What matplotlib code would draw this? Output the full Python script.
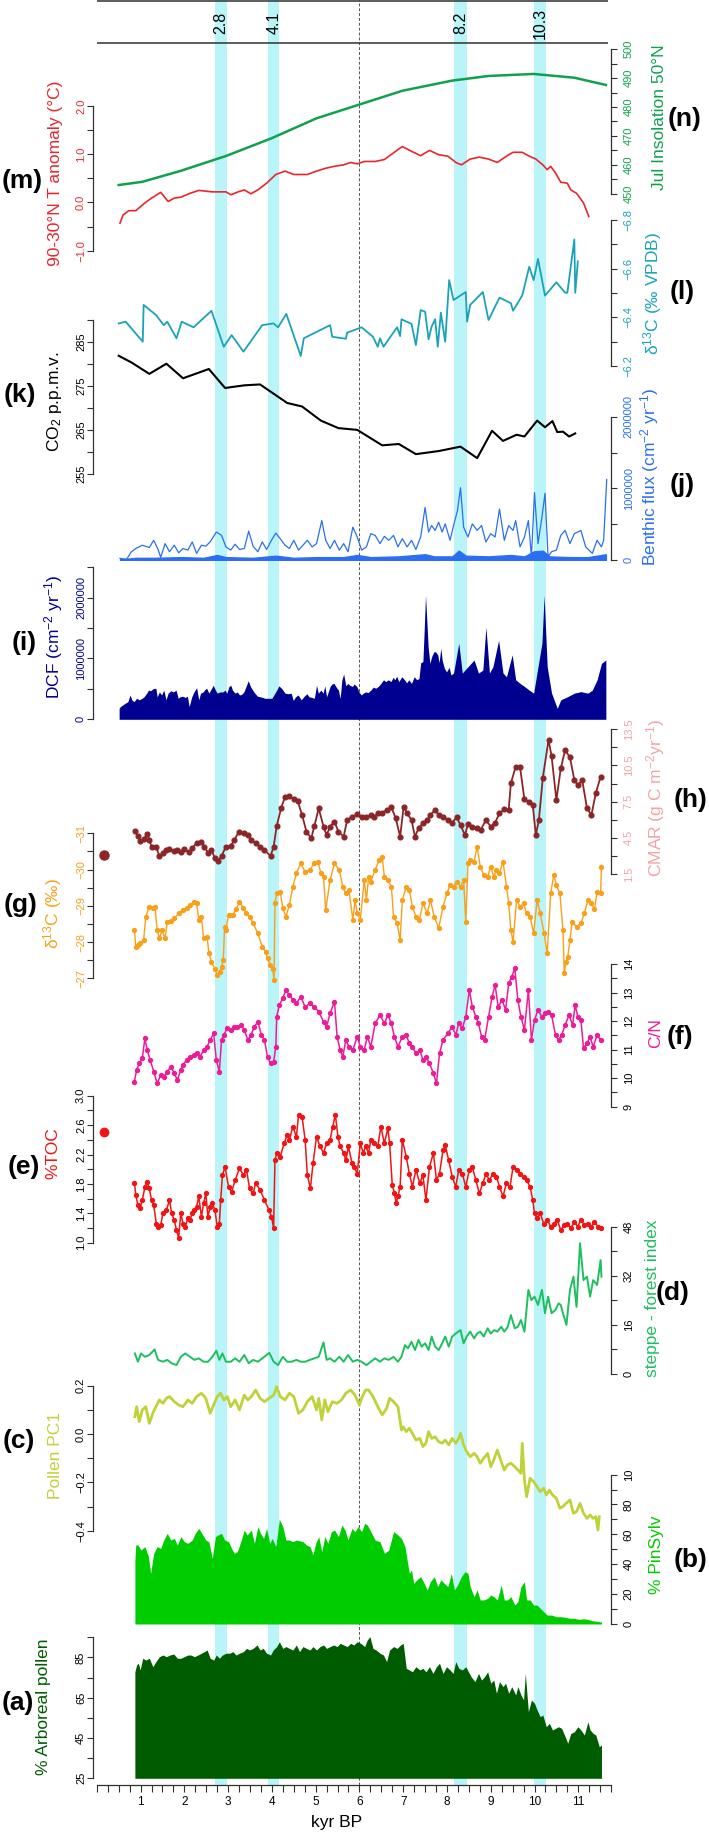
import numpy as np
import matplotlib
matplotlib.use("Agg")
import matplotlib.pyplot as plt

plt.rcParams["font.family"] = ["Liberation Sans", "DejaVu Sans"]
plt.rcParams["mathtext.default"] = "regular"

# ---------------- data (kyr BP) ----------------
event_names = ["2.8", "4.1", "8.2", "10.3"]
event_start = [2.70, 3.92, 8.17, 9.98]
event_end = [2.98, 4.17, 8.45, 10.26]

# (n) July insolation 50N
ins_kyr = [0.50, 1.04, 1.92, 2.95, 3.99, 5.02, 6.01, 6.98, 8.12, 8.95, 9.98, 10.91, 11.63]
ins_val = [453.1, 454.2, 458.0, 463.1, 469.2, 476.1, 480.9, 485.6, 489.1, 490.7, 491.4, 490.1, 487.6]

# (m) 90-30N temperature anomaly
tan_kyr = [0.53, 0.60, 0.73, 0.89, 1.10, 1.25, 1.46, 1.63, 1.77, 1.92, 2.13, 2.33, 2.64, 2.95, 3.06,
           3.26, 3.37, 3.52, 3.68, 3.88, 4.09, 4.30, 4.50, 4.81, 5.02, 5.23, 5.43, 5.64, 5.80, 5.95,
           6.11, 6.36, 6.57, 6.78, 6.98, 7.19, 7.40, 7.60, 7.81, 8.02, 8.22, 8.33, 8.53, 8.74, 8.95,
           9.15, 9.36, 9.51, 9.72, 9.88, 10.03, 10.19, 10.29, 10.37, 10.48, 10.60, 10.75, 10.83,
           10.96, 11.12, 11.24]
tan_val = [-0.43, -0.26, -0.17, -0.17, -0.01, 0.09, 0.21, 0.02, 0.09, 0.11, 0.19, 0.25, 0.22, 0.22,
           0.16, 0.23, 0.26, 0.18, 0.26, 0.40, 0.58, 0.65, 0.58, 0.58, 0.65, 0.71, 0.75, 0.78, 0.83,
           0.80, 0.85, 0.85, 0.89, 1.03, 1.16, 1.06, 0.97, 1.08, 0.99, 0.96, 0.82, 0.78, 0.90, 0.94,
           0.90, 0.83, 0.96, 1.04, 1.04, 0.96, 0.90, 0.78, 0.68, 0.75, 0.61, 0.42, 0.40, 0.26, 0.19,
           -0.01, -0.29]

# (l) speleothem d13C
spel_kyr = [0.50, 0.66, 1.05, 1.07, 1.35, 1.53, 1.61, 1.82, 1.94, 2.21,
            2.62, 2.90, 3.08, 3.35, 3.78, 4.04, 4.14, 4.33, 4.66, 4.73,
            5.33, 5.38, 5.69, 5.72, 6.05, 6.31, 6.42, 6.47, 6.55, 6.86,
            6.93, 6.96, 7.19, 7.29, 7.40, 7.50, 7.58, 7.65, 7.73, 7.79,
            7.86, 7.96, 8.05, 8.15, 8.43, 8.46, 8.53, 8.82, 8.95, 9.20,
            9.46, 9.51, 9.72, 9.88, 9.98, 10.08, 10.24, 10.50, 10.70, 10.75,
            10.91, 10.93, 10.99]
spel_d13c = [-6.375, -6.382, -6.30, -6.451, -6.41, -6.368, -6.382, -6.314, -6.382, -6.359,
             -6.427, -6.279, -6.327, -6.259, -6.368, -6.375, -6.359, -6.414, -6.241, -6.314,
             -6.368, -6.32, -6.312, -6.337, -6.359, -6.32, -6.279, -6.314, -6.279, -6.359,
             -6.323, -6.392, -6.373, -6.286, -6.43, -6.423, -6.31, -6.362, -6.392, -6.279,
             -6.419, -6.30, -6.553, -6.471, -6.504, -6.382, -6.451, -6.504, -6.389, -6.481,
             -6.458, -6.427, -6.49, -6.608, -6.553, -6.64, -6.489, -6.544, -6.501, -6.501,
             -6.72, -6.501, -6.63]

# (k) CO2
co2_kyr = [0.50, 0.79, 1.20, 1.59, 1.97, 2.56, 2.93, 3.37, 3.73, 4.04, 4.35, 4.69, 5.12, 5.52, 5.95,
           6.52, 6.90, 7.29, 7.81, 8.31, 8.69, 9.03, 9.28, 9.59, 9.77, 10.06, 10.24, 10.41, 10.52,
           10.65, 10.79, 10.93]
co2_ppm = [281.8, 280.3, 277.7, 280.0, 276.7, 278.8, 274.5, 275.1, 275.3, 273.2, 271.1, 270.3, 267.1,
           265.4, 265.0, 261.5, 261.8, 259.5, 260.2, 261.2, 258.6, 264.8, 262.5, 263.9, 263.5, 267.1,
           265.6, 267.0, 264.5, 264.6, 263.5, 264.2]

# (j) benthic flux, millions cm-2 yr-1
benth_kyr = [0.53, 0.68, 0.79, 0.89, 1.04, 1.20, 1.30, 1.40, 1.46, 1.56,
             1.66, 1.77, 1.87, 1.97, 2.08, 2.18, 2.28, 2.39, 2.49, 2.59,
             2.73, 2.85, 2.95, 3.06, 3.16, 3.26, 3.37, 3.47, 3.57, 3.68,
             3.78, 3.88, 3.99, 4.09, 4.19, 4.30, 4.40, 4.50, 4.61, 4.71,
             4.81, 4.92, 5.02, 5.14, 5.23, 5.33, 5.43, 5.54, 5.64, 5.74,
             5.85, 5.95, 6.05, 6.16, 6.26, 6.36, 6.47, 6.57, 6.67, 6.78,
             6.88, 6.98, 7.09, 7.19, 7.29, 7.40, 7.50, 7.58, 7.65, 7.73,
             7.81, 7.89, 7.96, 8.07, 8.17, 8.24, 8.31, 8.38, 8.48, 8.58,
             8.69, 8.79, 8.89, 9.00, 9.10, 9.20, 9.31, 9.41, 9.51, 9.57,
             9.67, 9.77, 9.86, 9.93, 10.00, 10.08, 10.17, 10.24, 10.31, 10.39,
             10.50, 10.60, 10.70, 10.81, 10.91, 11.06, 11.17, 11.32, 11.43, 11.53,
             11.58, 11.65]
benth_mil = [0.023, 0.009, 0.115, 0.16, 0.206, 0.174, 0.275, 0.147, 0.037, 0.229,
             0.115, 0.206, 0.101, 0.16, 0.138, 0.252, 0.092, 0.206, 0.193, 0.252,
             0.39, 0.344, 0.183, 0.138, 0.22, 0.147, 0.16, 0.403, 0.193, 0.115,
             0.252, 0.147, 0.275, 0.376, 0.298, 0.206, 0.16, 0.275, 0.138, 0.206,
             0.275, 0.183, 0.229, 0.55, 0.275, 0.16, 0.275, 0.138, 0.229, 0.115,
             0.459, 0.321, 0.138, 0.183, 0.367, 0.344, 0.229, 0.33, 0.275, 0.344,
             0.183, 0.298, 0.183, 0.275, 0.147, 0.321, 0.734, 0.39, 0.481, 0.413,
             0.527, 0.39, 0.504, 0.275, 0.527, 0.688, 1.009, 0.459, 0.321, 0.504,
             0.413, 0.481, 0.252, 0.367, 0.321, 0.711, 0.275, 0.481, 0.413, 0.55,
             0.183, 0.321, 0.55, 0.046, 0.94, 0.229, 0.596, 0.931, 0.046, 0.115,
             0.138, 0.344, 0.413, 0.229, 0.367, 0.413, 0.183, 0.092, 0.275, 0.183,
             0.275, 1.123]
benth_low_kyr = [0.53, 0.89, 1.30, 1.92, 2.44, 2.75, 2.95, 3.57, 4.09, 4.50, 5.02, 5.64, 5.95, 6.26,
                 6.88, 7.50, 7.71, 8.12, 8.27, 8.43, 8.95, 9.46, 9.77, 9.98, 10.19, 10.34, 10.81,
                 11.22, 11.63]
benth_low_mil = [0.01, 0.03, 0.03, 0.04, 0.03, 0.07, 0.04, 0.03, 0.06, 0.03, 0.04, 0.04, 0.07, 0.04,
                 0.05, 0.08, 0.05, 0.05, 0.13, 0.06, 0.05, 0.07, 0.05, 0.12, 0.13, 0.05, 0.04, 0.04,
                 0.08]

# (i) DCF, millions cm-2 yr-1
dcf_kyr = [0.51, 0.54, 0.59, 0.64, 0.71, 0.76, 0.80, 0.85, 0.91, 0.97,
           1.03, 1.08, 1.14, 1.18, 1.23, 1.29, 1.35, 1.38, 1.43, 1.48,
           1.53, 1.58, 1.63, 1.69, 1.75, 1.81, 1.86, 1.90, 1.96, 2.02,
           2.07, 2.11, 2.17, 2.22, 2.28, 2.33, 2.37, 2.43, 2.47, 2.51,
           2.56, 2.60, 2.66, 2.71, 2.75, 2.81, 2.88, 2.93, 2.97, 3.02,
           3.06, 3.10, 3.16, 3.21, 3.26, 3.31, 3.36, 3.41, 3.46, 3.51,
           3.56, 3.61, 3.67, 3.73, 3.79, 3.84, 4.00, 4.11, 4.16, 4.22,
           4.30, 4.38, 4.44, 4.49, 4.54, 4.60, 4.67, 4.74, 4.80, 4.85,
           4.91, 4.97, 5.02, 5.06, 5.12, 5.17, 5.21, 5.25, 5.33, 5.37,
           5.42, 5.46, 5.52, 5.56, 5.60, 5.64, 5.69, 5.73, 5.78, 5.84,
           5.88, 5.94, 5.99, 6.04, 6.09, 6.14, 6.20, 6.26, 6.32, 6.37,
           6.43, 6.49, 6.55, 6.60, 6.66, 6.72, 6.77, 6.81, 6.85, 6.90,
           6.97, 7.03, 7.08, 7.13, 7.19, 7.25, 7.31, 7.36, 7.40, 7.45,
           7.48, 7.51, 7.54, 7.57, 7.61, 7.65, 7.70, 7.74, 7.79, 7.82,
           7.86, 7.89, 7.94, 7.99, 8.05, 8.09, 8.15, 8.27, 8.35, 8.48,
           8.62, 8.72, 8.82, 8.89, 8.97, 9.05, 9.18, 9.28, 9.36, 9.49,
           9.57, 9.67, 9.77, 9.88, 9.98, 10.08, 10.17, 10.22, 10.29, 10.39,
           10.52, 10.60, 10.75, 10.91, 11.06, 11.22, 11.32, 11.43, 11.53, 11.63]
dcf_mil = [0.18, 0.21, 0.235, 0.26, 0.29, 0.40, 0.32, 0.29, 0.345, 0.32,
           0.345, 0.37, 0.43, 0.48, 0.47, 0.505, 0.51, 0.37, 0.45, 0.40,
           0.48, 0.32, 0.43, 0.47, 0.45, 0.48, 0.345, 0.37, 0.38, 0.36,
           0.38, 0.21, 0.37, 0.45, 0.52, 0.32, 0.43, 0.45, 0.49, 0.51,
           0.43, 0.48, 0.56, 0.48, 0.43, 0.45, 0.45, 0.48, 0.43, 0.54,
           0.56, 0.48, 0.43, 0.45, 0.40, 0.41, 0.45, 0.54, 0.635, 0.54,
           0.48, 0.43, 0.38, 0.37, 0.36, 0.345, 0.345, 0.48, 0.55, 0.51,
           0.43, 0.42, 0.43, 0.31, 0.37, 0.40, 0.32, 0.38, 0.42, 0.37,
           0.36, 0.345, 0.56, 0.43, 0.48, 0.43, 0.55, 0.37, 0.54, 0.58,
           0.59, 0.54, 0.48, 0.345, 0.65, 0.745, 0.55, 0.59, 0.56, 0.54,
           0.58, 0.54, 0.45, 0.40, 0.43, 0.45, 0.44, 0.48, 0.53, 0.51,
           0.54, 0.59, 0.65, 0.62, 0.65, 0.62, 0.69, 0.65, 0.71, 0.62,
           0.70, 0.65, 0.60, 0.65, 0.59, 0.70, 0.65, 0.67, 0.93, 0.95,
           1.47, 2.04, 1.63, 1.19, 0.92, 1.03, 1.11, 1.11, 1.06, 0.93,
           1.17, 0.975, 0.84, 0.78, 0.855, 0.73, 0.76, 1.25, 0.76, 0.865,
           0.975, 0.76, 0.81, 1.52, 0.76, 0.865, 1.30, 0.76, 0.70, 1.06,
           0.65, 0.59, 0.54, 0.48, 0.43, 0.865, 1.25, 2.04, 0.865, 0.43,
           0.18, 0.32, 0.37, 0.43, 0.455, 0.43, 0.48, 0.65, 0.92, 0.975]

# (h) CMAR
cmar_kyr = [0.87, 0.94, 0.99, 1.07, 1.15, 1.20, 1.25, 1.35, 1.43, 1.51,
            1.59, 1.66, 1.77, 1.84, 1.92, 2.00, 2.11, 2.18, 2.28, 2.39,
            2.46, 2.54, 2.62, 2.70, 2.78, 2.85, 2.95, 3.06, 3.14, 3.24,
            3.37, 3.45, 3.52, 3.63, 3.73, 3.83, 3.97, 4.04, 4.11, 4.21,
            4.30, 4.40, 4.50, 4.59, 4.69, 4.79, 4.90, 4.97, 5.07, 5.18,
            5.25, 5.33, 5.43, 5.52, 5.64, 5.72, 5.83, 5.95, 6.05, 6.16,
            6.26, 6.34, 6.42, 6.52, 6.62, 6.73, 6.83, 6.93, 7.01, 7.09,
            7.19, 7.27, 7.35, 7.45, 7.55, 7.62, 7.73, 7.81, 7.91, 8.02,
            8.12, 8.22, 8.31, 8.41, 8.48, 8.58, 8.69, 8.77, 8.89, 9.00,
            9.10, 9.20, 9.31, 9.41, 9.46, 9.57, 9.67, 9.77, 9.88, 9.96,
            10.03, 10.10, 10.19, 10.32, 10.39, 10.50, 10.60, 10.70, 10.81, 10.91,
            10.99, 11.09, 11.20, 11.30, 11.40, 11.51]
cmar_val = [5.07, 4.65, 4.26, 4.37, 4.79, 4.32, 3.77, 3.77, 2.99, 3.21,
            3.49, 3.55, 3.43, 3.49, 3.32, 3.55, 3.32, 3.63, 4.10, 4.18,
            3.77, 3.27, 3.49, 2.80, 2.61, 2.99, 3.77, 3.82, 4.32, 4.95,
            4.93, 4.73, 4.32, 4.04, 3.77, 3.49, 2.99, 3.77, 5.48, 6.94,
            7.91, 8.00, 7.69, 7.55, 6.39, 5.01, 4.46, 5.48, 6.94, 5.43,
            4.73, 5.43, 5.84, 5.01, 4.60, 5.98, 6.25, 6.45, 6.25, 6.25,
            6.39, 6.20, 6.59, 6.53, 6.81, 7.03, 6.12, 4.60, 7.08, 6.53,
            5.98, 4.60, 5.29, 5.70, 5.98, 6.39, 6.81, 6.39, 6.25, 5.98,
            5.76, 6.20, 5.56, 4.73, 5.62, 5.43, 5.29, 5.15, 5.98, 5.43,
            5.76, 6.53, 6.86, 6.81, 9.02, 10.40, 10.35, 7.69, 7.50, 7.22,
            4.73, 5.98, 9.49, 12.61, 11.28, 7.64, 10.26, 11.78, 11.17, 9.29,
            8.88, 9.29, 6.94, 6.39, 8.19, 9.57]
cmar_surface_kyr, cmar_surface = 0.17, 3.08

# (g) sediment d13C
sed_kyr = [0.86, 0.89, 0.94, 0.99, 1.07, 1.12, 1.20, 1.28, 1.33, 1.38,
           1.43, 1.49, 1.56, 1.61, 1.69, 1.77, 1.87, 1.97, 2.05, 2.13,
           2.21, 2.28, 2.33, 2.39, 2.44, 2.52, 2.56, 2.62, 2.69, 2.75,
           2.81, 2.85, 2.89, 2.92, 2.95, 3.01, 3.06, 3.11, 3.18, 3.26,
           3.35, 3.42, 3.49, 3.57, 3.68, 3.78, 3.86, 3.90, 3.96, 4.02,
           4.05, 4.07, 4.11, 4.19, 4.25, 4.32, 4.40, 4.48, 4.56, 4.66,
           4.76, 4.87, 4.97, 5.05, 5.12, 5.18, 5.23, 5.33, 5.43, 5.54,
           5.62, 5.69, 5.76, 5.85, 5.90, 5.95, 6.02, 6.11, 6.16, 6.21,
           6.26, 6.36, 6.45, 6.52, 6.57, 6.65, 6.73, 6.78, 6.86, 6.93,
           6.98, 7.07, 7.14, 7.21, 7.29, 7.37, 7.45, 7.55, 7.62, 7.71,
           7.81, 7.91, 8.00, 8.07, 8.15, 8.22, 8.31, 8.38, 8.43, 8.48,
           8.53, 8.62, 8.69, 8.76, 8.84, 8.93, 9.00, 9.07, 9.13, 9.20,
           9.28, 9.36, 9.41, 9.46, 9.51, 9.59, 9.67, 9.75, 9.82, 9.90,
           9.98, 10.06, 10.13, 10.22, 10.29, 10.37, 10.44, 10.50, 10.58, 10.65,
           10.68, 10.72, 10.76, 10.81, 10.86, 10.96, 11.06, 11.14, 11.22, 11.30,
           11.37, 11.43, 11.51, 11.53]
sed_d13c = [-28.33, -27.87, -27.92, -27.97, -28.06, -28.70, -28.98, -28.93, -28.96, -28.33,
            -28.10, -28.33, -28.10, -28.56, -28.59, -28.65, -28.79, -28.88, -28.93, -29.02,
            -29.11, -29.07, -28.61, -28.70, -28.10, -28.15, -27.69, -27.46, -27.27, -27.09,
            -27.18, -27.32, -27.50, -28.42, -28.33, -28.75, -28.75, -28.75, -28.90, -29.11,
            -28.93, -28.79, -28.70, -28.52, -28.24, -27.87, -27.73, -27.55, -27.37, -27.27,
            -26.95, -29.09, -29.34, -29.39, -28.93, -28.70, -29.02, -29.53, -29.90, -30.17,
            -29.94, -29.99, -30.19, -30.22, -29.90, -29.80, -28.88, -29.71, -30.17, -29.99,
            -29.53, -29.34, -29.44, -28.61, -29.16, -28.79, -28.61, -29.71, -29.16, -29.80,
            -29.67, -29.99, -30.26, -30.35, -29.80, -29.71, -29.53, -28.70, -28.52, -28.06,
            -29.16, -29.53, -29.44, -28.98, -28.70, -28.61, -29.07, -28.79, -29.16, -28.70,
            -28.38, -28.98, -29.34, -29.57, -29.53, -29.67, -29.53, -29.71, -28.56, -30.17,
            -30.26, -30.22, -30.63, -30.08, -29.85, -29.80, -30.08, -29.80, -29.99, -29.90,
            -30.22, -29.53, -29.07, -28.33, -28.01, -29.16, -28.98, -29.07, -28.79, -28.70,
            -28.24, -29.16, -28.79, -28.24, -27.69, -29.34, -29.85, -29.57, -29.34, -28.33,
            -27.14, -27.46, -27.60, -28.06, -28.56, -28.42, -28.52, -28.79, -29.16, -29.07,
            -28.90, -29.39, -29.34, -30.08]

# (f) C/N
cn_kyr = [0.86, 0.91, 0.97, 1.04, 1.10, 1.15, 1.22, 1.30, 1.38, 1.46,
          1.53, 1.61, 1.69, 1.77, 1.84, 1.92, 1.97, 2.05, 2.13, 2.21,
          2.28, 2.36, 2.44, 2.52, 2.59, 2.67, 2.73, 2.80, 2.85, 2.90,
          2.98, 3.06, 3.14, 3.21, 3.30, 3.37, 3.45, 3.52, 3.60, 3.68,
          3.76, 3.83, 3.90, 3.97, 4.04, 4.09, 4.11, 4.17, 4.25, 4.32,
          4.40, 4.48, 4.56, 4.66, 4.76, 4.87, 4.97, 5.07, 5.18, 5.25,
          5.33, 5.43, 5.49, 5.56, 5.62, 5.69, 5.76, 5.85, 5.95, 6.02,
          6.11, 6.18, 6.26, 6.36, 6.47, 6.57, 6.65, 6.73, 6.80, 6.88,
          6.98, 7.07, 7.14, 7.21, 7.29, 7.38, 7.45, 7.52, 7.60, 7.69,
          7.76, 7.83, 7.91, 8.02, 8.12, 8.20, 8.27, 8.35, 8.43, 8.51,
          8.58, 8.66, 8.72, 8.79, 8.86, 8.95, 9.03, 9.10, 9.17, 9.26,
          9.34, 9.41, 9.48, 9.55, 9.62, 9.69, 9.77, 9.86, 9.93, 10.00,
          10.08, 10.17, 10.24, 10.31, 10.39, 10.48, 10.55, 10.62, 10.70, 10.79,
          10.87, 10.93, 10.99, 11.06, 11.12, 11.20, 11.27, 11.34, 11.43, 11.51]
cn_val = [9.88, 10.29, 10.52, 10.70, 11.40, 10.99, 10.64, 10.23, 9.82, 10.11,
          10.05, 10.23, 10.40, 10.17, 9.94, 10.29, 10.46, 10.64, 10.75, 10.81,
          10.87, 10.75, 10.99, 11.10, 11.34, 11.57, 10.64, 10.23, 11.34, 11.51,
          11.75, 11.69, 11.80, 11.78, 11.86, 11.69, 11.34, 11.51, 11.80, 11.98,
          11.51, 11.34, 10.75, 10.52, 10.58, 11.10, 12.15, 12.56, 12.80, 13.09,
          12.91, 12.74, 12.62, 12.85, 12.50, 12.62, 12.50, 12.33, 11.98, 11.80,
          12.27, 12.68, 11.45, 10.99, 10.75, 11.34, 11.10, 10.99, 11.45, 11.10,
          10.99, 11.45, 11.10, 11.92, 12.21, 11.92, 12.21, 11.92, 11.45, 11.10,
          11.45, 11.51, 11.22, 11.10, 10.87, 10.99, 10.64, 10.75, 10.52, 10.17,
          9.82, 10.87, 11.34, 11.57, 11.80, 11.51, 11.92, 11.75, 12.15, 13.09,
          12.50, 12.15, 11.92, 11.45, 11.34, 12.15, 12.85, 13.26, 12.50, 12.74,
          12.39, 13.32, 13.55, 13.85, 12.74, 12.15, 11.69, 13.09, 11.34, 12.04,
          12.39, 12.15, 12.27, 12.33, 12.21, 11.51, 11.34, 11.51, 11.86, 12.21,
          11.86, 12.56, 12.15, 12.04, 11.05, 11.22, 11.45, 11.10, 11.51, 11.34]

# (e) %TOC
toc_kyr = [0.86, 0.89, 0.94, 0.99, 1.04, 1.10, 1.15, 1.20, 1.25, 1.30,
           1.36, 1.40, 1.46, 1.51, 1.59, 1.66, 1.71, 1.77, 1.82, 1.87,
           1.92, 1.97, 2.02, 2.08, 2.13, 2.18, 2.23, 2.28, 2.33, 2.39,
           2.44, 2.49, 2.54, 2.59, 2.64, 2.70, 2.75, 2.80, 2.83, 2.87,
           2.93, 3.01, 3.08, 3.16, 3.26, 3.35, 3.42, 3.49, 3.57, 3.63,
           3.73, 3.83, 3.94, 3.99, 4.04, 4.07, 4.11, 4.19, 4.28, 4.35,
           4.40, 4.48, 4.56, 4.61, 4.69, 4.76, 4.81, 4.88, 4.94, 5.02,
           5.10, 5.18, 5.25, 5.33, 5.39, 5.45, 5.51, 5.56, 5.64, 5.69,
           5.75, 5.83, 5.88, 5.95, 6.02, 6.09, 6.14, 6.21, 6.26, 6.34,
           6.42, 6.49, 6.57, 6.65, 6.69, 6.75, 6.80, 6.84, 6.88, 6.93,
           6.98, 7.07, 7.14, 7.21, 7.29, 7.38, 7.45, 7.52, 7.60, 7.69,
           7.76, 7.83, 7.91, 7.96, 8.04, 8.12, 8.20, 8.27, 8.35, 8.43,
           8.51, 8.58, 8.66, 8.74, 8.82, 8.89, 8.97, 9.05, 9.13, 9.20,
           9.28, 9.36, 9.44, 9.51, 9.59, 9.67, 9.75, 9.82, 9.90, 9.96,
           10.00, 10.06, 10.13, 10.21, 10.29, 10.37, 10.44, 10.52, 10.60, 10.68,
           10.75, 10.83, 10.91, 10.99, 11.06, 11.14, 11.22, 11.30, 11.37, 11.45,
           11.51]
toc_val = [1.81, 1.65, 1.51, 1.47, 1.58, 1.76, 1.83, 1.74, 1.58, 1.51,
           1.26, 1.22, 1.24, 1.40, 1.44, 1.58, 1.40, 1.31, 1.17, 1.07,
           1.40, 1.26, 1.22, 1.33, 1.31, 1.40, 1.44, 1.49, 1.63, 1.35,
           1.54, 1.67, 1.35, 1.49, 1.54, 1.44, 1.22, 1.26, 1.58, 1.92,
           2.03, 1.76, 1.69, 1.85, 2.01, 1.92, 1.99, 1.74, 1.67, 1.81,
           1.72, 1.58, 1.44, 1.35, 1.20, 2.12, 2.22, 2.17, 2.35, 2.47,
           2.40, 2.58, 2.44, 2.74, 2.71, 2.40, 1.92, 1.74, 2.08, 2.44,
           2.31, 2.22, 2.35, 2.40, 2.58, 2.74, 2.44, 2.31, 2.22, 2.12,
           2.31, 2.08, 2.03, 1.94, 2.35, 2.22, 2.31, 2.22, 2.40, 2.35,
           2.31, 2.58, 2.35, 2.56, 2.35, 1.79, 1.67, 1.54, 1.63, 1.76,
           2.40, 2.17, 1.94, 1.76, 1.99, 1.81, 1.92, 1.58, 2.03, 2.22,
           1.85, 1.94, 2.26, 2.33, 2.12, 1.90, 1.76, 1.99, 1.94, 1.76,
           1.99, 2.03, 1.85, 1.67, 1.81, 1.94, 1.85, 1.94, 1.90, 1.76,
           1.63, 1.81, 1.76, 2.03, 1.99, 1.94, 1.90, 1.85, 1.76, 1.58,
           1.40, 1.33, 1.40, 1.26, 1.31, 1.22, 1.26, 1.31, 1.17, 1.24,
           1.26, 1.20, 1.28, 1.22, 1.31, 1.24, 1.26, 1.22, 1.28, 1.22,
           1.20]
toc_surface_kyr, toc_surface = 0.17, 2.50

# (d) steppe - forest index
stp_kyr = [0.87, 0.94, 1.01, 1.10, 1.20, 1.32, 1.40, 1.51, 1.61, 1.71,
           1.82, 1.92, 2.02, 2.13, 2.23, 2.33, 2.44, 2.54, 2.64, 2.73,
           2.80, 2.87, 2.95, 3.06, 3.16, 3.26, 3.37, 3.47, 3.57, 3.68,
           3.78, 3.94, 4.04, 4.14, 4.25, 4.35, 4.45, 4.56, 4.66, 4.76,
           4.87, 4.97, 5.07, 5.18, 5.25, 5.33, 5.43, 5.54, 5.64, 5.74,
           5.85, 5.95, 6.05, 6.16, 6.26, 6.36, 6.47, 6.57, 6.67, 6.78,
           6.88, 6.96, 7.04, 7.11, 7.19, 7.27, 7.35, 7.42, 7.50, 7.58,
           7.65, 7.73, 7.81, 7.89, 7.96, 8.04, 8.12, 8.20, 8.31, 8.38,
           8.45, 8.53, 8.62, 8.69, 8.76, 8.84, 8.93, 9.00, 9.08, 9.15,
           9.24, 9.31, 9.39, 9.46, 9.55, 9.62, 9.69, 9.77, 9.86, 9.93,
           10.00, 10.08, 10.17, 10.24, 10.31, 10.39, 10.48, 10.55, 10.60, 10.65,
           10.73, 10.81, 10.89, 10.96, 11.04, 11.12, 11.20, 11.27, 11.34, 11.43,
           11.51, 11.53]
stp_val = [6.7, 4.0, 6.7, 5.6, 6.2, 8.0, 4.6, 4.0, 4.6, 3.5,
           2.9, 5.6, 6.7, 5.6, 4.6, 5.1, 4.0, 4.0, 5.6, 7.6,
           4.6, 6.7, 4.0, 4.0, 5.1, 4.0, 6.2, 3.5, 4.6, 4.0,
           5.1, 6.9, 4.0, 2.9, 5.6, 4.0, 4.0, 4.6, 4.0, 4.0,
           4.6, 5.1, 5.6, 10.3, 4.6, 5.1, 4.0, 5.6, 4.0, 6.2,
           4.0, 4.6, 4.0, 2.9, 4.0, 5.1, 4.0, 5.1, 4.6, 5.6,
           4.0, 5.6, 9.4, 8.4, 10.5, 7.8, 11.1, 8.9, 10.0, 7.8,
           12.2, 8.9, 7.8, 10.0, 12.2, 8.9, 12.2, 13.2, 14.3, 10.0,
           12.2, 13.8, 11.6, 13.2, 13.8, 12.2, 14.9, 13.2, 14.3, 13.8,
           15.4, 13.8, 15.4, 19.2, 14.9, 15.4, 17.6, 13.8, 27.4, 24.1,
           25.2, 22.5, 27.4, 19.8, 25.2, 19.8, 20.9, 23.0, 22.5, 19.8,
           16.0, 27.4, 31.7, 21.9, 42.6, 30.6, 31.7, 25.2, 30.6, 29.0,
           37.1, 31.7]

# (c) pollen PC1
pc1_kyr = [0.87, 0.91, 0.97, 1.04, 1.12, 1.20, 1.28, 1.35, 1.43, 1.51,
           1.59, 1.66, 1.77, 1.87, 1.97, 2.08, 2.18, 2.28, 2.39, 2.49,
           2.59, 2.67, 2.75, 2.83, 2.90, 2.98, 3.06, 3.16, 3.26, 3.37,
           3.45, 3.53, 3.63, 3.73, 3.83, 3.94, 4.04, 4.11, 4.19, 4.30,
           4.40, 4.50, 4.61, 4.71, 4.81, 4.92, 5.02, 5.07, 5.14, 5.21,
           5.28, 5.38, 5.49, 5.59, 5.69, 5.80, 5.90, 6.00, 6.05, 6.14,
           6.21, 6.31, 6.42, 6.52, 6.62, 6.69, 6.78, 6.88, 6.96, 7.00,
           7.07, 7.14, 7.21, 7.29, 7.38, 7.45, 7.52, 7.58, 7.65, 7.73,
           7.81, 7.89, 7.96, 8.04, 8.12, 8.20, 8.27, 8.31, 8.38, 8.45,
           8.53, 8.62, 8.69, 8.76, 8.84, 8.93, 9.00, 9.07, 9.15, 9.24,
           9.31, 9.38, 9.46, 9.55, 9.62, 9.69, 9.72, 9.77, 9.82, 9.90,
           9.98, 10.06, 10.13, 10.21, 10.27, 10.34, 10.41, 10.50, 10.58, 10.65,
           10.72, 10.81, 10.89, 10.96, 11.04, 11.12, 11.20, 11.27, 11.34, 11.40,
           11.45, 11.48]
pc1_val = [0.072, 0.113, 0.051, 0.100, 0.113, 0.044, 0.086, 0.113, 0.141, 0.127,
           0.148, 0.155, 0.134, 0.120, 0.113, 0.141, 0.127, 0.155, 0.169, 0.148,
           0.086, 0.120, 0.155, 0.169, 0.141, 0.155, 0.113, 0.141, 0.100, 0.161,
           0.141, 0.155, 0.182, 0.148, 0.134, 0.148, 0.161, 0.196, 0.155, 0.141,
           0.169, 0.155, 0.086, 0.100, 0.134, 0.155, 0.100, 0.148, 0.058, 0.141,
           0.092, 0.134, 0.127, 0.141, 0.169, 0.182, 0.161, 0.120, 0.148, 0.182,
           0.182, 0.155, 0.113, 0.079, 0.106, 0.148, 0.134, 0.113, 0.017, 0.030,
           0.010, 0.024, 0.003, -0.025, -0.018, -0.052, -0.038, 0.010, -0.018, -0.011,
           -0.032, -0.038, -0.025, -0.045, -0.018, -0.038, -0.018, 0.003, -0.045, -0.073,
           -0.094, -0.080, -0.094, -0.121, -0.100, -0.080, -0.135, -0.107, -0.066, -0.114,
           -0.149, -0.128, -0.121, -0.135, -0.149, -0.162, -0.038, -0.190, -0.259, -0.183,
           -0.197, -0.218, -0.239, -0.224, -0.252, -0.232, -0.252, -0.266, -0.307, -0.300,
           -0.287, -0.273, -0.328, -0.321, -0.287, -0.328, -0.349, -0.335, -0.349, -0.342,
           -0.397, -0.342]

# (b) % Pinus sylvestris
pin_kyr = [0.87, 0.89, 0.94, 1.01, 1.10, 1.18, 1.23, 1.30, 1.38, 1.46,
           1.53, 1.61, 1.69, 1.77, 1.84, 1.92, 2.00, 2.08, 2.18, 2.25,
           2.33, 2.42, 2.49, 2.56, 2.64, 2.71, 2.77, 2.85, 2.92, 3.01,
           3.08, 3.14, 3.21, 3.29, 3.37, 3.43, 3.47, 3.53, 3.60, 3.68,
           3.74, 3.81, 3.88, 3.95, 4.01, 4.09, 4.17, 4.25, 4.32, 4.40,
           4.48, 4.56, 4.63, 4.71, 4.79, 4.87, 4.94, 5.00, 5.07, 5.14,
           5.21, 5.28, 5.36, 5.43, 5.52, 5.60, 5.67, 5.74, 5.83, 5.90,
           5.97, 6.05, 6.12, 6.18, 6.26, 6.36, 6.47, 6.57, 6.67, 6.78,
           6.88, 6.96, 7.04, 7.09, 7.14, 7.19, 7.24, 7.31, 7.40, 7.48,
           7.55, 7.62, 7.71, 7.79, 7.86, 7.94, 8.02, 8.10, 8.17, 8.24,
           8.33, 8.41, 8.48, 8.53, 8.62, 8.69, 8.76, 8.84, 8.93, 9.00,
           9.07, 9.15, 9.24, 9.31, 9.38, 9.46, 9.55, 9.62, 9.69, 9.77,
           9.82, 9.90, 9.98, 10.06, 10.13, 10.21, 10.29, 10.39, 10.50, 10.60,
           10.70, 10.81, 10.91, 11.02, 11.12, 11.22, 11.32, 11.43, 11.53]
pin_val = [42.8, 52.9, 52.9, 49.5, 51.8, 45.1, 33.9, 47.3, 51.8, 50.6,
           56.2, 60.7, 56.2, 57.3, 52.9, 58.5, 55.1, 54.0, 56.2, 60.7,
           64.0, 59.6, 56.2, 55.1, 44.0, 58.5, 59.6, 60.7, 56.2, 55.1,
           50.6, 47.3, 48.4, 55.1, 62.9, 59.6, 60.7, 62.9, 54.0, 65.2,
           60.7, 57.3, 64.0, 54.0, 57.3, 51.8, 70.1, 65.2, 56.2, 56.2,
           55.1, 56.2, 55.7, 55.1, 52.9, 51.8, 46.2, 54.0, 58.5, 48.4,
           58.5, 54.0, 61.8, 62.9, 58.5, 66.3, 62.9, 56.2, 64.0, 61.8,
           65.2, 61.8, 67.4, 66.3, 61.8, 56.2, 55.1, 47.3, 49.5, 61.8,
           59.6, 57.3, 51.8, 42.8, 33.9, 36.1, 27.2, 29.5, 31.7, 27.2,
           22.8, 28.3, 31.7, 25.0, 29.5, 27.2, 25.0, 33.9, 22.8, 26.1,
           31.7, 35.0, 33.9, 25.0, 18.3, 22.8, 16.1, 16.1, 17.2, 19.4,
           18.3, 16.1, 26.1, 16.1, 16.1, 18.3, 12.7, 14.9, 25.0, 28.3,
           16.1, 16.1, 12.7, 12.7, 10.5, 8.2, 6.0, 6.0, 4.9, 4.9,
           4.5, 3.8, 3.8, 3.1, 3.5, 3.1, 2.2, 1.8, 1.3]

# (a) % arboreal pollen
ap_kyr = [0.87, 0.91, 0.95, 0.99, 1.05, 1.12, 1.20, 1.28, 1.35, 1.43,
          1.51, 1.59, 1.67, 1.76, 1.84, 1.92, 2.00, 2.08, 2.15, 2.23,
          2.31, 2.39, 2.46, 2.52, 2.59, 2.67, 2.73, 2.80, 2.87, 2.95,
          3.04, 3.11, 3.18, 3.26, 3.35, 3.42, 3.49, 3.57, 3.66, 3.73,
          3.80, 3.88, 3.97, 4.03, 4.11, 4.17, 4.25, 4.32, 4.40, 4.48,
          4.56, 4.63, 4.71, 4.79, 4.87, 4.94, 5.02, 5.10, 5.18, 5.25,
          5.33, 5.41, 5.49, 5.56, 5.64, 5.72, 5.80, 5.87, 5.95, 6.03,
          6.12, 6.18, 6.24, 6.31, 6.38, 6.47, 6.55, 6.62, 6.69, 6.78,
          6.86, 6.94, 7.00, 7.07, 7.14, 7.21, 7.29, 7.38, 7.45, 7.52,
          7.60, 7.68, 7.76, 7.83, 7.91, 7.99, 8.07, 8.14, 8.20, 8.27,
          8.35, 8.43, 8.49, 8.55, 8.64, 8.72, 8.79, 8.86, 8.93, 9.00,
          9.07, 9.13, 9.20, 9.28, 9.34, 9.41, 9.48, 9.57, 9.62, 9.69,
          9.75, 9.79, 9.86, 9.93, 10.00, 10.06, 10.13, 10.19, 10.27, 10.34,
          10.41, 10.48, 10.55, 10.62, 10.70, 10.76, 10.83, 10.91, 10.99, 11.06,
          11.14, 11.22, 11.27, 11.34, 11.40, 11.48, 11.53]
ap_val = [77.9, 81.3, 82.1, 78.8, 84.6, 83.7, 84.6, 80.4, 82.9, 85.4,
          86.2, 85.4, 86.2, 86.7, 84.6, 84.6, 85.4, 86.2, 86.2, 85.4,
          86.2, 87.1, 87.9, 88.7, 84.6, 83.7, 86.2, 84.6, 86.2, 87.1,
          87.1, 87.9, 86.2, 87.1, 87.9, 89.5, 88.7, 89.5, 91.2, 88.7,
          89.5, 87.1, 86.2, 88.7, 90.4, 92.8, 89.5, 90.4, 89.5, 88.7,
          91.2, 87.9, 90.4, 89.5, 88.7, 90.4, 88.7, 90.4, 91.2, 89.5,
          90.4, 91.2, 90.4, 92.0, 91.2, 90.4, 92.0, 91.2, 92.8, 92.0,
          90.4, 93.7, 95.3, 89.5, 88.7, 87.1, 86.2, 82.9, 88.7, 90.4,
          89.5, 91.2, 92.0, 79.6, 78.8, 77.9, 80.4, 78.8, 79.6, 77.9,
          80.4, 77.1, 80.4, 82.1, 77.1, 80.4, 78.8, 77.1, 82.9, 79.6,
          78.8, 80.4, 77.9, 75.5, 73.0, 77.1, 73.8, 75.5, 77.9, 72.2,
          73.8, 67.2, 73.0, 70.5, 72.2, 67.2, 70.5, 66.4, 70.5, 66.4,
          63.9, 77.1, 58.1, 63.9, 62.2, 58.9, 55.6, 56.4, 50.6, 52.3,
          49.0, 49.8, 50.6, 49.8, 45.7, 42.4, 47.3, 48.1, 50.6, 49.0,
          46.5, 53.1, 49.0, 47.3, 46.5, 40.7, 41.5]

# ---------------- colours ----------------
AXC = "#303030"
BAND = "#b8f4f8"
C_INS = "#11a04e"
C_TAN = "#e8262b"
C_SPEL = "#1aa3b8"
C_BENTH = "#2a6ff0"
C_DCF = "#000090"
C_CMAR = "#8b2528"
C_CMAR_LAB = "#f3a3a6"
C_SED = "#f9a01b"
C_CN = "#ec1c99"
C_TOC = "#f01414"
C_STP = "#1dbf5f"
C_PC1 = "#bfd23a"
C_PIN = "#00cd00"
C_AP = "#005c00"

# ---------------- figure ----------------
W, H = 709, 1835
fig = plt.figure(figsize=(W / 100, H / 100), dpi=100)
X0, X1 = 96.8, 611.1        # pixel x of 0 and 11.75 kyr
XMAX = 11.75


def add_panel(top, bottom, ylim):
    ax = fig.add_axes([X0 / W, 1 - bottom / H, (X1 - X0) / W, (bottom - top) / H])
    ax.set_xlim(0, XMAX)
    ax.set_ylim(*ylim)
    ax.patch.set_alpha(0)
    ax.set_xticks([])
    for s in ax.spines.values():
        s.set_visible(False)
    return ax


def y_axis(ax, side, ticks, labels, lab_color):
    ax.set_yticks(ticks)
    ax.set_yticklabels(labels)
    sp = ax.spines[side]
    sp.set_visible(True)
    sp.set_bounds(min(ticks), max(ticks))
    sp.set_linewidth(0.9)
    sp.set_color(AXC)
    if side == "left":
        sp.set_position(("outward", 2.9))
        ax.yaxis.tick_left()
        pad = 0.4
    else:
        ax.yaxis.tick_right()
        pad = 4.5
    ax.tick_params(axis="y", length=4.5, width=0.8, color=AXC, labelsize=8,
                   labelcolor=lab_color, pad=pad, labelrotation=90)
    for t in ax.get_yticklabels():
        t.set_verticalalignment("center")


def ftext(x, y, s, **kw):
    fig.text(x / W, 1 - y / H, s, ha="center", va="center", **kw)


# background: event bands, 6 kyr line, top frame and time axis
bg = fig.add_axes([X0 / W, 1 - 1785 / H, (X1 - X0) / W, 1785 / H])
bg.set_xlim(0, XMAX)
bg.set_ylim(1785, 0)
for lo, hi in zip(event_start, event_end):
    bg.axvspan(lo, hi, color=BAND, lw=0, zorder=0)
bg.axvline(6.0, color="#555555", lw=0.7, ls=(0, (3, 2)), zorder=1)
bg.hlines([1, 43], 0.01, 11.68, color=AXC, lw=1.1, clip_on=False)
for name, lo, hi in zip(event_names, event_start, event_end):
    bg.text((lo + hi) / 2, 23, name, rotation=90, ha="center", va="center", fontsize=11.5)
for side in ["left", "right", "top"]:
    bg.spines[side].set_visible(False)
bg.spines["bottom"].set_bounds(0, XMAX)
bg.spines["bottom"].set_color(AXC)
bg.spines["bottom"].set_linewidth(0.9)
bg.set_yticks([])
xt = np.arange(0, XMAX + 0.01, 0.25)
bg.set_xticks(xt)
bg.set_xticklabels([str(int(t)) if (t % 1 == 0 and t > 0) else "" for t in xt])
bg.tick_params(axis="x", length=4.8, width=0.8, color=AXC, labelsize=8.5, pad=3)
ftext(337, 1822, "kyr BP", fontsize=12.5)

# (n) insolation
ax = add_panel(49, 194, (450, 500))
ax.plot(ins_kyr, ins_val, color=C_INS, lw=1.8, clip_on=False)
y_axis(ax, "right", np.arange(450, 501, 5),
       ["450", "", "460", "", "470", "", "480", "", "490", "", "500"], C_INS)

# (m) temperature anomaly
ax = add_panel(106, 250.7, (-1.0, 2.0))
ax.plot(tan_kyr, tan_val, color=C_TAN, lw=1.2, clip_on=False)
y_axis(ax, "left", np.arange(-1.0, 2.01, 0.5),
       ["\u22121.0", "", "0.0", "", "1.0", "", "2.0"], C_TAN)

# (l) speleothem d13C (reversed)
ax = add_panel(220, 366, (-6.2, -6.8))
ax.plot(spel_kyr, spel_d13c, color=C_SPEL, lw=1.3, clip_on=False)
y_axis(ax, "right", np.round(np.arange(-6.8, -6.19, 0.1), 1),
       ["\u22126.8", "", "\u22126.6", "", "\u22126.4", "", "\u22126.2"], C_SPEL)

# (k) CO2
ax = add_panel(319.6, 474, (255, 290))
ax.plot(co2_kyr, co2_ppm, color="black", lw=1.5, clip_on=False)
y_axis(ax, "left", np.arange(255, 291, 5),
       ["255", "", "265", "", "275", "", "285", ""], "black")

# (j) benthic flux
ax = add_panel(416.7, 560, (0, 2.0e6))
ax.fill_between(benth_low_kyr, 0, np.array(benth_low_mil) * 1e6, color=C_BENTH, lw=1.0)
ax.plot(benth_kyr, np.array(benth_mil) * 1e6, color=C_BENTH, lw=0.9, clip_on=False)
y_axis(ax, "right", np.arange(0, 2.01e6, 5e5), ["0", "", "1000000", "", "2000000"], C_BENTH)

# (i) DCF
ax = add_panel(567.3, 719.3, (0, 2.5e6))
ax.fill_between(dcf_kyr, 0, np.array(dcf_mil) * 1e6, color=C_DCF, lw=0)
y_axis(ax, "left", np.arange(0, 2.51e6, 5e5), ["0", "", "1000000", "", "2000000", ""], C_DCF)

# (h) CMAR
ax = add_panel(729.3, 874, (1.5, 13.5))
ax.plot(cmar_kyr, cmar_val, color=C_CMAR, lw=1.3, marker="o", ms=3.4, clip_on=False)
ax.plot([cmar_surface_kyr], [cmar_surface], "o", color=C_CMAR, ms=6.5, clip_on=False)
y_axis(ax, "right", np.arange(1.5, 13.51, 1.5),
       ["1.5", "", "4.5", "", "7.5", "", "10.5", "", "13.5"], C_CMAR_LAB)

# (g) sediment d13C (reversed)
ax = add_panel(833.3, 978.3, (-27, -31))
ax.plot(sed_kyr, sed_d13c, color=C_SED, lw=1.0, marker="o", ms=2.8, clip_on=False)
y_axis(ax, "left", np.arange(-31, -26.9, 0.5),
       ["\u221231", "", "\u221230", "", "\u221229", "", "\u221228", "", "\u221227"], C_SED)

# (f) C/N
ax = add_panel(964, 1106.7, (9, 14))
ax.plot(cn_kyr, cn_val, color=C_CN, lw=1.1, marker="o", ms=2.8, clip_on=False)
y_axis(ax, "right", np.arange(9, 14.01, 0.5),
       ["9", "", "10", "", "11", "", "12", "", "13", "", "14"], "black")

# (e) %TOC
ax = add_panel(1095.7, 1242.7, (1.0, 3.0))
ax.plot(toc_kyr, toc_val, color=C_TOC, lw=1.1, marker="o", ms=2.8, clip_on=False)
ax.plot([toc_surface_kyr], [toc_surface], "o", color=C_TOC, ms=6, clip_on=False)
y_axis(ax, "left", np.round(np.arange(1.0, 3.01, 0.2), 1),
       ["1.0", "", "1.4", "", "1.8", "", "2.2", "", "2.6", "", "3.0"], "black")

# (d) steppe - forest index
ax = add_panel(1226.7, 1374, (0, 48))
ax.plot(stp_kyr, stp_val, color=C_STP, lw=1.4, clip_on=False)
y_axis(ax, "right", np.arange(0, 49, 8), ["0", "", "16", "", "32", "", "48"], "black")

# (c) pollen PC1
ax = add_panel(1385.7, 1530.7, (-0.4, 0.2))
ax.plot(pc1_kyr, pc1_val, color=C_PC1, lw=2.0, clip_on=False)
y_axis(ax, "left", np.round(np.arange(-0.4, 0.21, 0.1), 1),
       ["\u22120.4", "", "\u22120.2", "", "0.0", "", "0.2"], "black")

# (b) % PinSylv
ax = add_panel(1474.6, 1624, (0, 100))
ax.fill_between(pin_kyr, 0, pin_val, color=C_PIN, lw=0)
y_axis(ax, "right", np.arange(0, 101, 10),
       ["0", "", "20", "", "40", "", "60", "", "80", "", "10"], "black")

# (a) % arboreal pollen
ax = add_panel(1637.3, 1778.3, (25, 95))
ax.fill_between(ap_kyr, 25, ap_val, color=C_AP, lw=0)
y_axis(ax, "left", np.arange(25, 96, 10),
       ["25", "", "45", "", "65", "", "85", ""], "black")

# axis titles
TS = 12.5
ftext(56, 173, "90-30\u00b0N T anomaly (\u00b0C)", rotation=90, color=C_TAN, fontsize=TS)
ftext(660, 117, "Jul Insolation 50\u00b0N", rotation=90, color=C_INS, fontsize=TS)
ftext(653, 293, r"$\delta^{13}$C (‰ VPDB)", rotation=90, color=C_SPEL, fontsize=TS)
ftext(55, 402, r"CO$_2$ p.p.m.v.", rotation=90, color="black", fontsize=TS)
ftext(650, 477, r"Benthic flux (cm$^{-2}$ yr$^{-1}$)", rotation=90, color=C_BENTH, fontsize=TS)
ftext(54, 637, r"DCF (cm$^{-2}$ yr$^{-1}$)", rotation=90, color=C_DCF, fontsize=TS)
ftext(656, 798, r"CMAR (g C m$^{-2}$yr$^{-1}$)", rotation=90, color=C_CMAR_LAB, fontsize=TS)
ftext(53, 913, r"$\delta^{13}$C (‰)", rotation=90, color=C_SED, fontsize=TS)
ftext(656, 1033, "C/N", rotation=90, color=C_CN, fontsize=TS)
ftext(53, 1153, "%TOC", rotation=90, color=C_TOC, fontsize=TS)
ftext(652, 1298, "steppe - forest index", rotation=90, color=C_STP, fontsize=TS)
ftext(55, 1455, "Pollen PC1", rotation=90, color=C_PC1, fontsize=TS)
ftext(656, 1555, "% PinSylv", rotation=90, color=C_PIN, fontsize=TS)
ftext(44, 1707, "% Arboreal pollen", rotation=90, color=C_AP, fontsize=TS)

# panel letters
LS = 19
for letter, x, y in [("(n)", 685, 119), ("(m)", 22, 181), ("(l)", 682, 292), ("(k)", 20, 395),
                     ("(j)", 682, 485), ("(i)", 24, 643), ("(h)", 691, 800), ("(g)", 21, 905),
                     ("(f)", 680, 1037), ("(e)", 24, 1167), ("(d)", 673, 1293), ("(c)", 19, 1441),
                     ("(b)", 691, 1560), ("(a)", 18, 1703)]:
    ftext(x, y, letter, fontsize=LS, fontweight="bold")

fig.savefig("out.png", dpi=100)
